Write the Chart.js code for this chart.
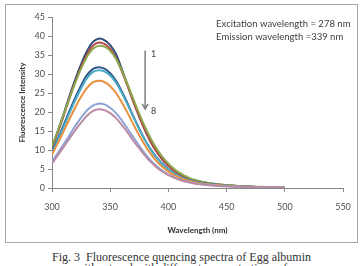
<!DOCTYPE html>
<html>
<head>
<meta charset="utf-8">
<script src="https://cdn.jsdelivr.net/npm/chart.js@4"></script>
<style>
  body { margin: 0; background: #fff; }
  #wrap { position: relative; width: 363px; height: 266px; overflow: hidden; }
  #frame { position: absolute; left: 5px; top: 4px; width: 351px; height: 237px; border: 1px solid #a6a6a6; }
  #box { position: absolute; left: 0; top: 0; width: 363px; height: 245px; }
  .cap { position: absolute; left: 0; width: 363px; text-align: center;
    font-family: "Liberation Serif", serif; font-size: 12px; line-height: 14px; color: #333; }
</style>
</head>
<body>
<div id="wrap">
  <div id="frame"></div>
  <div id="box"><canvas id="spectraChart" width="363" height="245"></canvas></div>
  <div class="cap" style="top:250px">Fig. 3&nbsp; Fluorescence quencing spectra of Egg albumin</div>
  <div class="cap" style="top:261px">without and with different concentrations of</div>
</div>
<script>
// Wavelength (nm)
var wavelengths = [300, 305, 310, 315, 320, 325, 330, 335, 340, 345, 350, 355, 360, 365, 370, 375, 380,
  385, 390, 395, 400, 405, 410, 415, 420, 430, 440, 450, 460, 470, 480, 490, 500];

// Fluorescence intensity, spectra 1..8
var spectrum1 = [10.8, 15.0, 19.5, 24.2, 28.6, 32.6, 36.0, 38.4, 39.3, 38.9, 37.6, 35.2, 31.3, 27.0, 22.8, 18.8, 15.2,
  12.1, 9.6, 7.5, 5.9, 4.6, 3.6, 2.8, 2.2, 1.5, 1.0, 0.7, 0.5, 0.35, 0.25, 0.2, 0.15];
var spectrum2 = [10.5, 14.6, 19.0, 23.6, 27.9, 31.8, 35.1, 37.4, 38.3, 37.9, 36.6, 34.2, 30.7, 26.8, 22.6, 18.7, 15.1,
  12.0, 9.5, 7.4, 5.8, 4.5, 3.5, 2.7, 2.1, 1.4, 1.0, 0.7, 0.5, 0.35, 0.25, 0.2, 0.15];
var spectrum3 = [10.9, 15.0, 19.3, 23.6, 27.7, 31.4, 34.5, 36.6, 37.4, 37.2, 36.1, 34.0, 30.9, 27.2, 23.3, 19.5, 16.0,
  12.9, 10.3, 8.1, 6.4, 5.0, 3.9, 3.1, 2.4, 1.6, 1.1, 0.8, 0.55, 0.4, 0.3, 0.2, 0.15];
var spectrum4 = [9.6, 13.0, 16.6, 20.3, 23.8, 27.0, 29.7, 31.3, 31.8, 31.4, 30.2, 28.2, 25.4, 22.2, 18.8, 15.6, 12.6,
  10.1, 8.0, 6.3, 4.9, 3.8, 3.0, 2.4, 1.9, 1.3, 0.9, 0.6, 0.45, 0.3, 0.25, 0.2, 0.12];
var spectrum5 = [9.2, 12.6, 16.1, 19.7, 23.1, 26.2, 28.9, 30.5, 31.0, 30.7, 29.6, 27.7, 25.0, 21.9, 18.6, 15.4, 12.5,
  10.0, 7.9, 6.2, 4.9, 3.8, 3.0, 2.3, 1.8, 1.2, 0.85, 0.6, 0.45, 0.3, 0.25, 0.2, 0.12];
var spectrum6 = [8.8, 11.8, 14.9, 18.1, 21.2, 24.0, 26.3, 27.8, 28.2, 27.9, 26.8, 25.0, 22.5, 19.7, 16.7, 13.8, 11.2,
  8.9, 7.0, 5.5, 4.3, 3.4, 2.7, 2.1, 1.7, 1.1, 0.8, 0.55, 0.4, 0.3, 0.2, 0.15, 0.1];
var spectrum7 = [6.9, 9.2, 11.5, 13.9, 16.3, 18.5, 20.4, 21.7, 22.2, 22.0, 21.1, 19.7, 17.8, 15.6, 13.3, 11.1, 9.0,
  7.2, 5.7, 4.5, 3.5, 2.8, 2.2, 1.7, 1.4, 0.95, 0.65, 0.45, 0.35, 0.25, 0.2, 0.15, 0.1];
var spectrum8 = [6.4, 8.6, 10.8, 13.0, 15.2, 17.2, 19.0, 20.2, 20.7, 20.5, 19.7, 18.4, 16.6, 14.6, 12.4, 10.4, 8.5,
  6.8, 5.4, 4.3, 3.4, 2.7, 2.1, 1.7, 1.3, 0.9, 0.6, 0.45, 0.35, 0.25, 0.2, 0.15, 0.1];

var allSpectra = [spectrum1, spectrum2, spectrum3, spectrum4, spectrum5, spectrum6, spectrum7, spectrum8];
var colors = ["#2c4d75", "#b0484a", "#8ea84b", "#31578b", "#4bacc6", "#e8913f", "#8fa2d4", "#b98aa4"];

var xTicks = [300, 350, 400, 450, 500, 550];
var yTicks = [0, 5, 10, 15, 20, 25, 30, 35, 40, 45];

var noteLines = ["Excitation wavelength = 278 nm", "Emission wavelength =339 nm"];

// build datasets (drawn last-first so spectrum 1 ends on top)
var datasets = [];
for (var s = allSpectra.length - 1; s >= 0; s--) {
  var pts = [];
  for (var i = 0; i < wavelengths.length; i++) {
    pts.push({ x: wavelengths[i], y: allSpectra[s][i] });
  }
  datasets.push({
    label: "Spectrum " + (s + 1),
    data: pts,
    borderColor: colors[s],
    borderWidth: 2,
    pointRadius: 0,
    tension: 0.4,
    fill: false
  });
}

// arrow 1 -> 8 and the text box
var notesPlugin = {
  id: "notes",
  afterDatasetsDraw: function (chart) {
    var ctx = chart.ctx;
    var xs = chart.scales.x;
    var ys = chart.scales.y;
    ctx.save();

    var ax = xs.getPixelForValue(380);
    var ay1 = ys.getPixelForValue(36.2);
    var ay2 = ys.getPixelForValue(20.8);
    ctx.strokeStyle = "#808080";
    ctx.lineWidth = 1.5;
    ctx.beginPath();
    ctx.moveTo(ax, ay1);
    ctx.lineTo(ax, ay2);
    ctx.moveTo(ax - 3, ay2 - 5);
    ctx.lineTo(ax, ay2);
    ctx.lineTo(ax + 3, ay2 - 5);
    ctx.stroke();

    ctx.fillStyle = "#404040";
    ctx.font = "9px Lato";
    ctx.textAlign = "left";
    ctx.textBaseline = "middle";
    ctx.fillText("1", ax + 6, ys.getPixelForValue(35.3));
    ctx.fillText("8", ax + 6, ys.getPixelForValue(20.3));

    ctx.font = "9.5px Lato";
    ctx.fillStyle = "#404040";
    var nx = xs.getPixelForValue(441);
    ctx.fillText(noteLines[0], nx, ys.getPixelForValue(43.2));
    ctx.fillText(noteLines[1], nx, ys.getPixelForValue(39.8));
    ctx.restore();
  }
};

var ctx = document.getElementById("spectraChart").getContext("2d");
var chart = new Chart(ctx, {
  type: "line",
  data: { datasets: datasets },
  plugins: [notesPlugin],
  options: {
    responsive: false,
    animation: false,
    layout: { padding: { left: 0, top: 17, right: 20, bottom: 0 } },
    plugins: { legend: { display: false }, tooltip: { enabled: false } },
    scales: {
      x: {
        type: "linear",
        min: 300,
        max: 550,
        afterBuildTicks: function (scale) {
          scale.ticks = xTicks.map(function (v) { return { value: v }; });
        },
        afterFit: function (scale) { scale.height = 57; },
        grid: { drawOnChartArea: false, drawTicks: true, tickLength: 4, color: "#868686" },
        border: { display: true, color: "#868686" },
        ticks: { padding: 10, color: "#505050", font: { family: "Lato", size: 9 }, maxRotation: 0 },
        title: { display: true, text: "Wavelength (nm)", color: "#303030", padding: { top: 0, bottom: 10 },
          font: { family: "Lato", size: 8, weight: "bold" } }
      },
      y: {
        min: 0,
        max: 45,
        afterBuildTicks: function (scale) {
          scale.ticks = yTicks.map(function (v) { return { value: v }; });
        },
        afterFit: function (scale) { scale.width = 52; },
        grid: { drawOnChartArea: false, drawTicks: true, tickLength: 4, color: "#868686" },
        border: { display: true, color: "#868686" },
        ticks: { padding: 3, color: "#505050", font: { family: "Lato", size: 9 } },
        title: { display: true, text: "Fluorescence Intensity", color: "#303030", padding: { top: 18, bottom: 0 },
          font: { family: "Lato", size: 8, weight: "bold" } }
      }
    }
  }
});
</script>
</body>
</html>
